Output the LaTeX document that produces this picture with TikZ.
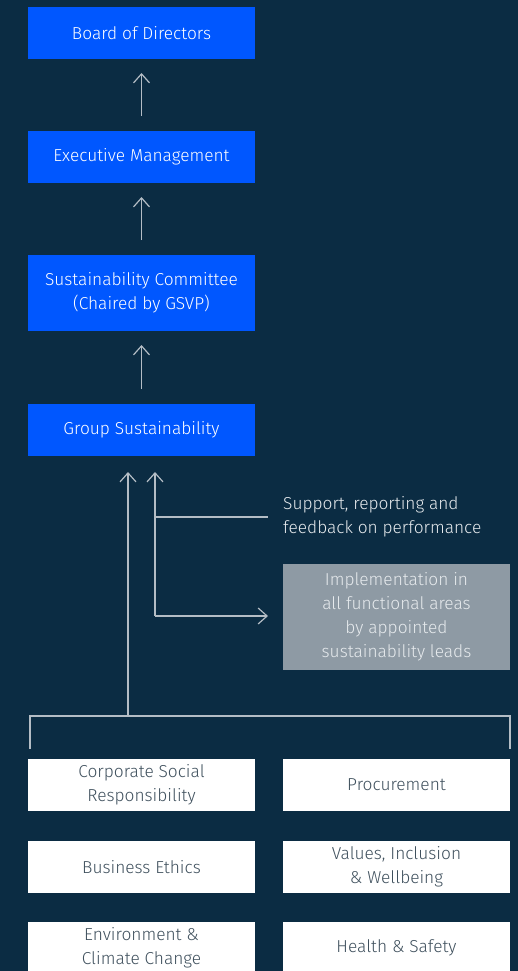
\documentclass[tikz,border=0pt]{standalone}
\usepackage{fontspec}
\setmainfont{Fira Sans}[UprightFont=* Light]
\usetikzlibrary{positioning}
\usetikzlibrary{arrows.meta}

\definecolor{navy}{HTML}{0B2C43}
\definecolor{boardblue}{HTML}{0057FF}
\definecolor{leadgrey}{HTML}{8E9AA4}
\definecolor{linegrey}{HTML}{B4BDC5}
\definecolor{areatext}{HTML}{3F505D}
\definecolor{paletext}{HTML}{E6EAED}

\begin{document}
\begin{tikzpicture}[x=1pt,y=-1pt,every text node part/.style={align=center},font=\fontsize{17.3}{24}\selectfont]

\tikzstyle{bluebox} = [rectangle,fill=boardblue,text=white,minimum width=227pt,minimum height=52pt,inner sep=0,outer sep=0]
\tikzstyle{whitebox} = [rectangle,fill=white,text=areatext,minimum width=227pt,minimum height=52pt,inner sep=0,outer sep=0]
\tikzstyle{greybox} = [rectangle,fill=leadgrey,text=paletext,minimum width=227pt,minimum height=106pt,inner sep=0,outer sep=0]
\tikzstyle{line} = [draw=linegrey,line width=1.2pt]
\tikzstyle{arrow} = [draw=linegrey,line width=1.2pt,-{Straight Barb[length=9pt,width=16pt]}]

\fill[navy] (0,0) rectangle (518,971);
\clip (0,0) rectangle (518,971);

\node [bluebox] (board) at (141.5,33) {Board of Directors};
\node [bluebox, below=72pt of board] (exec) {Executive Management};
\node [bluebox, minimum height=76pt, below=72pt of exec] (committee) {Sustainability Committee\\(Chaired by GSVP)};
\node [bluebox, below=73pt of committee] (group) {Group Sustainability};

\node [anchor=west, every text node part/.style={align=left}, inner sep=0, text=paletext] (support) at (283,517) {Support, reporting and\\feedback on performance};
\node [greybox] (leads) at (396.5,617) {Implementation in\\all functional areas\\by appointed\\sustainability leads};

\node [whitebox] (csr) at (141.5,785) {Corporate Social\\Responsibility};
\node [whitebox, right=28pt of csr] (procurement) {Procurement};
\node [whitebox, below=30pt of csr] (ethics) {Business Ethics};
\node [whitebox, right=28pt of ethics] (values) {Values, Inclusion\\\& Wellbeing};
\node [whitebox, below=29pt of ethics] (environment) {Environment \&\\Climate Change};
\node [whitebox, right=28pt of environment] (health) {Health \& Safety};

\coordinate (bracket) at (128,716);
\coordinate (feedback) at (155,616);

\path[arrow, shorten >=14pt, shorten <=15pt] (exec) -- (board);
\path[arrow, shorten >=14pt, shorten <=15pt] (committee) -- (exec);
\path[arrow, shorten >=14pt, shorten <=15pt] (group) -- (committee);

\path[arrow, shorten >=16pt] (bracket) -- (bracket |- group.south);
\path[arrow, shorten >=16pt] (feedback) -- (feedback |- group.south);
\path[line, shorten >=15pt] (support.west -| feedback) -- (support.west);
\path[arrow, shorten >=15pt] (feedback) -- (feedback -| leads.west);

\path[line] (30,749) |- (510,716) -- (510,749);
\end{tikzpicture}
\end{document}
